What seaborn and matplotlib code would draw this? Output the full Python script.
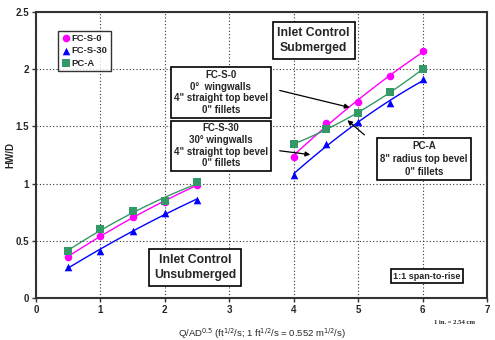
import matplotlib
matplotlib.use("Agg")
import matplotlib.pyplot as plt
import seaborn as sns
import numpy as np
import pandas as pd

# ---- data ----
x_unsub = [0.5, 1.0, 1.5, 2.0, 2.5]
x_sub = [4.0, 4.5, 5.0, 5.5, 6.0]
fcs0_unsub = [0.36, 0.545, 0.705, 0.84, 0.99]
fcs30_unsub = [0.27, 0.41, 0.59, 0.74, 0.86]
pca_unsub = [0.41, 0.60, 0.76, 0.85, 1.01]
fcs0_sub = [1.235, 1.53, 1.715, 1.94, 2.155]
fcs30_sub = [1.075, 1.345, 1.54, 1.705, 1.91]
pca_sub = [1.345, 1.475, 1.62, 1.80, 2.00]
series_names = ["FC-S-0", "FC-S-30", "PC-A"]
colors = ["#FF00FF", "#0000FF", "#339966"]
markers = ["o", "^", "s"]

sns.set_style("white")
plt.rcParams['font.family'] = ['Liberation Sans', 'DejaVu Sans']

fig = plt.figure(figsize=(4.95, 3.40), dpi=100)
ax = fig.add_axes([36/495, 42/340, 451/495, 286/340])

data_unsub = [fcs0_unsub, fcs30_unsub, pca_unsub]
data_sub = [fcs0_sub, fcs30_sub, pca_sub]
for name, col, mk, yu, ys in zip(series_names, colors, markers, data_unsub, data_sub):
    df = pd.DataFrame({"x": x_unsub + x_sub, "y": yu + ys})
    sns.regplot(x=x_unsub, y=yu, order=2, ci=None, scatter=False, ax=ax,
                line_kws=dict(color=col, lw=1.0), truncate=True)
    sns.regplot(x=x_sub, y=ys, order=2, ci=None, scatter=False, ax=ax,
                line_kws=dict(color=col, lw=1.0), truncate=True)
    sns.scatterplot(data=df, x="x", y="y", color=col, marker=mk, s=30,
                    edgecolor=col, linewidth=0, ax=ax, label=name, zorder=5)

ax.set_xlim(0, 7)
ax.set_ylim(0, 2.5)
ax.set_xticks(range(0, 8))
ax.set_yticks([0, 0.5, 1, 1.5, 2, 2.5])
ax.set_yticklabels(["0", "0.5", "1", "1.5", "2", "2.5"])
ax.grid(True, color="#333333", linestyle=(0, (1, 2)), linewidth=0.8)
for s in ax.spines.values():
    s.set_color("#333333")
    s.set_linewidth(1.5)
ax.tick_params(axis="both", labelsize=7, length=3, width=1, color="#333333",
               direction="out", left=True, bottom=True, pad=2)
for lab in ax.get_xticklabels() + ax.get_yticklabels():
    lab.set_fontweight("bold")
ax.set_xlabel("Q/AD$^{0.5}$ (ft$^{1/2}$/s; 1 ft$^{1/2}$/s = 0.552 m$^{1/2}$/s)", fontsize=6.8)
ax.xaxis.set_label_coords(0.50, -0.10)
ax.set_ylabel("HW/D", fontsize=7, fontweight="bold")
ax.yaxis.set_label_coords(-0.045, 0.5)

leg = ax.legend(loc="upper left", bbox_to_anchor=(0.049, 0.935), fontsize=6.8,
                frameon=True, fancybox=False, borderpad=0.35, handletextpad=0.1,
                labelspacing=0.35, handlelength=1.0, borderaxespad=0)
leg.get_frame().set_edgecolor("black")
leg.get_frame().set_linewidth(1.0)
for t in leg.get_texts():
    t.set_fontweight("bold")

box = dict(boxstyle="square,pad=0.3", fc="white", ec="black", lw=1.2)
bigbox = dict(boxstyle="square,pad=0.4", fc="white", ec="black", lw=1.2)
ax.text(4.31, 2.25, "Inlet Control\nSubmerged", fontsize=8.8, fontweight="bold",
        ha="center", va="center", bbox=bigbox, linespacing=1.3, zorder=6)
ax.text(2.87, 1.795, "FC-S-0\n0°  wingwalls\n4\" straight top bevel\n0\" fillets", fontsize=7.0,
        fontweight="bold", ha="center", va="center", bbox=box, linespacing=1.2, zorder=6)
ax.text(2.87, 1.33, "FC-S-30\n30° wingwalls\n4\" straight top bevel\n0\" fillets", fontsize=7.0,
        fontweight="bold", ha="center", va="center", bbox=box, linespacing=1.2, zorder=6)
ax.text(6.02, 1.215, "PC-A\n8\" radius top bevel\n0\" fillets", fontsize=7.0,
        fontweight="bold", ha="center", va="center", bbox=box, linespacing=1.35, zorder=6)
ax.text(2.47, 0.265, "Inlet Control\nUnsubmerged", fontsize=8.8, fontweight="bold",
        ha="center", va="center", bbox=bigbox, linespacing=1.3, zorder=6)
ax.text(6.07, 0.19, "1:1 span-to-rise", fontsize=6.5, fontweight="bold",
        ha="center", va="center",
        bbox=dict(boxstyle="square,pad=0.3", fc="white", ec="black", lw=1.2))

arrow = dict(arrowstyle="-|>", color="black", lw=0.9, mutation_scale=7)
ax.annotate("", xy=(4.91, 1.66), xytext=(3.74, 1.82), arrowprops=arrow, zorder=7)
ax.annotate("", xy=(4.30, 1.25), xytext=(3.74, 1.29), arrowprops=arrow, zorder=7)
ax.annotate("", xy=(4.80, 1.57), xytext=(5.13, 1.41), arrowprops=arrow, zorder=7)

fig.text(455/495, 1 - 323/340, "1 in. = 2.54 cm", fontsize=4.8, fontweight="bold",
         family=["Liberation Serif", "DejaVu Serif"], ha="center", va="center")

fig.savefig("out.png", dpi=100)
